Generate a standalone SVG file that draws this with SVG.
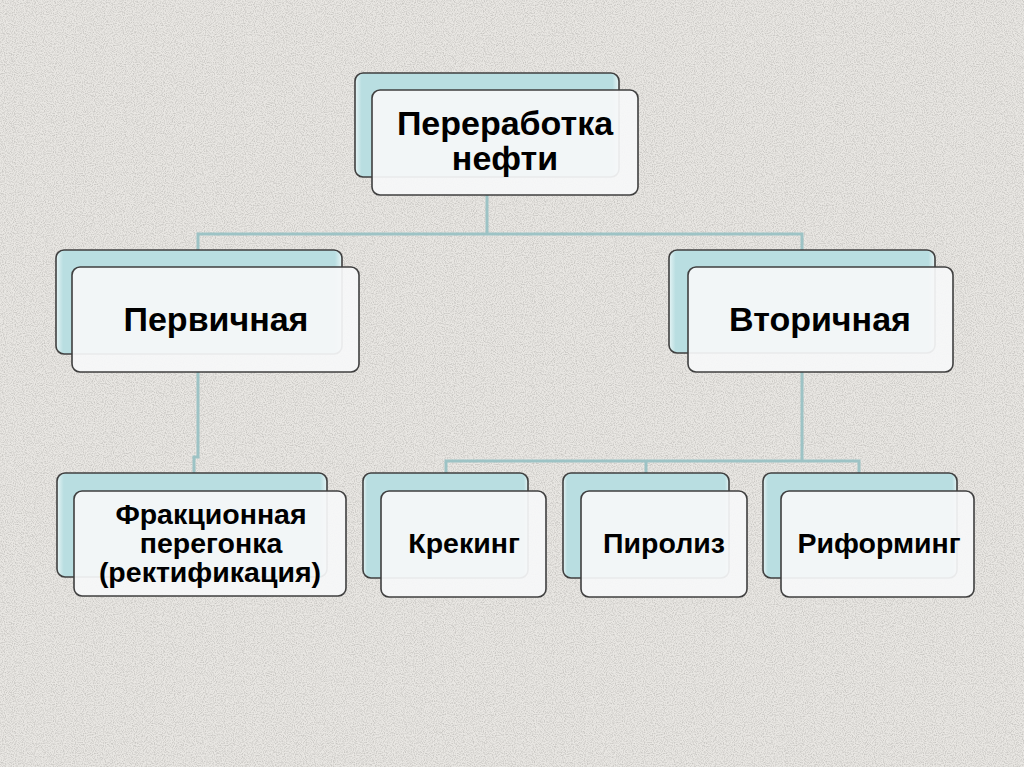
<svg xmlns="http://www.w3.org/2000/svg" width="1024" height="767" viewBox="0 0 1024 767">
  <style>
    .back { fill: url(#tealGrad); stroke: #3f3f3f; stroke-width: 1.6; }
    .front { fill: #f6f8f9; fill-opacity: 0.93; stroke: #3f3f3f; stroke-width: 1.6; }
    .conn { fill: none; stroke: #9dc3c5; stroke-width: 3; }
    .big { font-family: "Liberation Sans", Arial, sans-serif; font-weight: bold; font-size: 34px; fill: #000; text-anchor: middle; }
    .small { font-family: "Liberation Sans", Arial, sans-serif; font-weight: bold; font-size: 28.5px; fill: #000; text-anchor: middle; }
  </style>
  <defs>
    <linearGradient id="tealGrad" x1="0" y1="0" x2="1" y2="0">
      <stop offset="0" stop-color="#e6f4f5"/>
      <stop offset="0.025" stop-color="#b9dee1"/>
      <stop offset="0.975" stop-color="#b9dee1"/>
      <stop offset="1" stop-color="#e6f4f5"/>
    </linearGradient>
    <filter id="noise" x="0" y="0" width="100%" height="100%">
      <feTurbulence type="fractalNoise" baseFrequency="0.9" numOctaves="2" seed="3" result="t"/>
      <feColorMatrix type="matrix" values="0 0 0 0 0.45  0 0 0 0 0.44  0 0 0 0 0.42  0 0 0 -2.4 1.45"/>
    </filter>
  </defs>
  <rect width="1024" height="767" fill="#e9e7e3"/>
  <rect width="1024" height="767" filter="url(#noise)" opacity="0.6"/>

  <g id="connectors">
    <path class="conn" d="M487 195 V234"/>
    <path class="conn" d="M198 250 V234 H802 V250"/>
    <path class="conn" d="M198 372 V457 H194 V473"/>
    <path class="conn" d="M802 372 V461"/>
    <path class="conn" d="M446 473 V461 H859 V473"/>
    <path class="conn" d="M646 461 V473"/>
  </g>

  <g id="node-root">
    <rect class="back" x="355" y="73" width="264" height="104" rx="8"/>
    <rect class="front" x="372" y="90" width="266" height="105" rx="8"/>
    <text class="big" x="505" y="135">Переработка</text>
    <text class="big" x="505" y="170">нефти</text>
  </g>

  <g id="node-primary">
    <rect class="back" x="56" y="250" width="286" height="104" rx="8"/>
    <rect class="front" x="72" y="267" width="287" height="105" rx="8"/>
    <text class="big" x="216" y="331">Первичная</text>
  </g>

  <g id="node-secondary">
    <rect class="back" x="669" y="250" width="266" height="103" rx="8"/>
    <rect class="front" x="688" y="267" width="265" height="105" rx="8"/>
    <text class="big" x="820" y="331">Вторичная</text>
  </g>

  <g id="node-fraction">
    <rect class="back" x="57" y="473" width="270" height="104" rx="8"/>
    <rect class="front" x="74" y="491" width="272" height="105" rx="8"/>
    <text class="small" x="211" y="524">Фракционная</text>
    <text class="small" x="211" y="553">перегонка</text>
    <text class="small" x="210" y="582">(ректификация)</text>
  </g>

  <g id="node-cracking">
    <rect class="back" x="363" y="473" width="165" height="105" rx="8"/>
    <rect class="front" x="381" y="491" width="165" height="106" rx="8"/>
    <text class="small" x="464" y="553">Крекинг</text>
  </g>

  <g id="node-pyrolysis">
    <rect class="back" x="563" y="473" width="166" height="105" rx="8"/>
    <rect class="front" x="581" y="491" width="166" height="106" rx="8"/>
    <text class="small" x="664" y="553">Пиролиз</text>
  </g>

  <g id="node-reforming">
    <rect class="back" x="763" y="473" width="194" height="105" rx="8"/>
    <rect class="front" x="781" y="491" width="193" height="106" rx="8"/>
    <text class="small" x="879" y="553">Риформинг</text>
  </g>
</svg>
